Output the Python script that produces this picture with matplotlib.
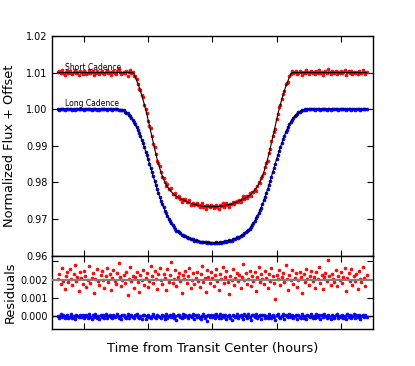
import matplotlib.pyplot as plt
import numpy as np

# time from transit center (hours), both cadences on the same grid
time = np.linspace(-2.4, 2.4, 241)

# transit models (flux + offset)
short_before = [
    1.0100, 1.0100, 1.0100, 1.0100, 1.0100, 1.0100, 1.0100, 1.0100, 1.0100, 1.0100,
    1.0100, 1.0100, 1.0100, 1.0100, 1.0100, 1.0100, 1.0100, 1.0100, 1.0100, 1.0100,
    1.0100, 1.0100, 1.0100, 1.0100, 1.0100, 1.0100, 1.0100, 1.0100, 1.0100, 1.0100,
    1.0100, 1.0100, 1.0100, 1.0100, 1.0100, 1.0100, 1.0100, 1.0100, 1.0100, 1.0100,
    1.0100, 1.0100, 1.0100, 1.0100, 1.0100, 1.0100, 1.0100, 1.0100, 1.0100, 1.0100,
    1.0100, 1.0100, 1.0100, 1.0100, 1.0100, 1.0100, 1.0100, 1.0100, 1.0100]
short_ingress = [
    1.0096, 1.0088, 1.0079, 1.0070, 1.0061, 1.0050, 1.0039, 1.0027, 1.0014, 1.0001,
    0.9987, 0.9972, 0.9956, 0.9940, 0.9924, 0.9908, 0.9893, 0.9878, 0.9864, 0.9851,
    0.9839, 0.9828, 0.9818, 0.9809, 0.9801, 0.9795, 0.9789, 0.9784, 0.9779, 0.9775,
    0.9771, 0.9768, 0.9765, 0.9763, 0.9760, 0.9758, 0.9756, 0.9754, 0.9753, 0.9751,
    0.9749, 0.9748, 0.9746, 0.9745, 0.9744, 0.9742, 0.9741, 0.9740, 0.9740, 0.9739,
    0.9738, 0.9737, 0.9736, 0.9736, 0.9735, 0.9735, 0.9734, 0.9734, 0.9734, 0.9734,
    0.9734, 0.9734]
short_egress = [
    0.9734, 0.9734, 0.9734, 0.9734, 0.9734, 0.9735, 0.9735, 0.9736, 0.9736, 0.9737,
    0.9738, 0.9739, 0.9740, 0.9740, 0.9741, 0.9742, 0.9744, 0.9745, 0.9746, 0.9748,
    0.9749, 0.9751, 0.9753, 0.9754, 0.9756, 0.9758, 0.9760, 0.9763, 0.9765, 0.9768,
    0.9771, 0.9775, 0.9779, 0.9784, 0.9789, 0.9795, 0.9801, 0.9809, 0.9818, 0.9828,
    0.9839, 0.9851, 0.9864, 0.9878, 0.9893, 0.9908, 0.9924, 0.9940, 0.9956, 0.9972,
    0.9987, 1.0001, 1.0014, 1.0027, 1.0039, 1.0050, 1.0061, 1.0070, 1.0079, 1.0088,
    1.0096]
short_after = [
    1.0100, 1.0100, 1.0100, 1.0100, 1.0100, 1.0100, 1.0100, 1.0100, 1.0100, 1.0100,
    1.0100, 1.0100, 1.0100, 1.0100, 1.0100, 1.0100, 1.0100, 1.0100, 1.0100, 1.0100,
    1.0100, 1.0100, 1.0100, 1.0100, 1.0100, 1.0100, 1.0100, 1.0100, 1.0100, 1.0100,
    1.0100, 1.0100, 1.0100, 1.0100, 1.0100, 1.0100, 1.0100, 1.0100, 1.0100, 1.0100,
    1.0100, 1.0100, 1.0100, 1.0100, 1.0100, 1.0100, 1.0100, 1.0100, 1.0100, 1.0100,
    1.0100, 1.0100, 1.0100, 1.0100, 1.0100, 1.0100, 1.0100, 1.0100, 1.0100]

long_before = [
    1.0000, 1.0000, 1.0000, 1.0000, 1.0000, 1.0000, 1.0000, 1.0000, 1.0000, 1.0000,
    1.0000, 1.0000, 1.0000, 1.0000, 1.0000, 1.0000, 1.0000, 1.0000, 1.0000, 1.0000,
    1.0000, 1.0000, 1.0000, 1.0000, 1.0000, 1.0000, 1.0000, 1.0000, 1.0000, 1.0000,
    1.0000, 1.0000, 1.0000, 1.0000, 1.0000, 1.0000, 1.0000, 1.0000, 1.0000, 1.0000,
    1.0000, 1.0000, 1.0000, 1.0000, 1.0000, 1.0000, 1.0000]
long_ingress = [
    1.0000, 0.9999, 0.9998,
    0.9997, 0.9996, 0.9993, 0.9991, 0.9988, 0.9984, 0.9980, 0.9976, 0.9971, 0.9965,
    0.9959, 0.9951, 0.9944, 0.9936, 0.9927, 0.9917, 0.9907, 0.9897, 0.9886, 0.9875,
    0.9864, 0.9852, 0.9840, 0.9828, 0.9816, 0.9805, 0.9793, 0.9782, 0.9771, 0.9761,
    0.9751, 0.9741, 0.9732, 0.9724, 0.9716, 0.9708, 0.9701, 0.9695, 0.9689, 0.9683,
    0.9679, 0.9674, 0.9670, 0.9667, 0.9664, 0.9661, 0.9658, 0.9656, 0.9654, 0.9652,
    0.9650, 0.9649, 0.9647, 0.9646, 0.9645, 0.9643, 0.9642, 0.9641, 0.9641, 0.9640,
    0.9639, 0.9638, 0.9638, 0.9637, 0.9637, 0.9636, 0.9636, 0.9636, 0.9636, 0.9635,
    0.9635]
long_egress = [
    0.9635, 0.9636, 0.9636, 0.9636, 0.9636, 0.9637, 0.9637, 0.9638, 0.9638, 0.9639,
    0.9640, 0.9641, 0.9641, 0.9642, 0.9643, 0.9645, 0.9646, 0.9647, 0.9649, 0.9650,
    0.9652, 0.9654, 0.9656, 0.9658, 0.9661, 0.9664, 0.9667, 0.9670, 0.9674, 0.9679,
    0.9683, 0.9689, 0.9695, 0.9701, 0.9708, 0.9716, 0.9724, 0.9732, 0.9741, 0.9751,
    0.9761, 0.9771, 0.9782, 0.9793, 0.9805, 0.9816, 0.9828, 0.9840, 0.9852, 0.9864,
    0.9875, 0.9886, 0.9897, 0.9907, 0.9917, 0.9927, 0.9936, 0.9944, 0.9951, 0.9959,
    0.9965, 0.9971, 0.9976, 0.9980, 0.9984, 0.9988, 0.9991, 0.9993, 0.9996, 0.9997,
    0.9998, 0.9999, 1.0000]
long_after = [
    1.0000, 1.0000, 1.0000, 1.0000, 1.0000, 1.0000, 1.0000, 1.0000, 1.0000, 1.0000,
    1.0000, 1.0000, 1.0000, 1.0000, 1.0000, 1.0000, 1.0000, 1.0000, 1.0000, 1.0000,
    1.0000, 1.0000, 1.0000, 1.0000, 1.0000, 1.0000, 1.0000, 1.0000, 1.0000, 1.0000,
    1.0000, 1.0000, 1.0000, 1.0000, 1.0000, 1.0000, 1.0000, 1.0000, 1.0000, 1.0000,
    1.0000, 1.0000, 1.0000, 1.0000, 1.0000, 1.0000, 1.0000]

# residuals in units of 1e-5 (short cadence shown offset by +0.002)
short_resid = [
    205, 231, 178, 262, 194, 148, 219, 243, 187, 256, 201, 169, 228, 281, 192, 214, 137, 239, 207, 176,
    248, 221, 159, 196, 272, 183, 210, 234, 126, 203, 258, 190, 171, 225, 246, 199, 153, 217, 264, 186,
    230, 141, 208, 252, 195, 174, 237, 289, 212, 163, 199, 226, 181, 244, 118, 206, 269, 191, 222, 157,
    215, 240, 185, 132, 227, 198, 253, 170, 209, 236, 160, 193, 276, 218, 184, 245, 202, 149, 229, 262,
    197, 175, 233, 211, 144, 257, 188, 223, 296, 180, 206, 251, 167, 214, 238, 192, 129, 226, 203, 247,
    182, 219, 265, 154, 200, 235, 177, 211, 242, 195, 161, 228, 273, 189, 207, 134, 253, 216, 183, 239,
    208, 166, 224, 258, 193, 145, 231, 204, 268, 179, 213, 247, 186, 122, 221, 196, 255, 171, 209, 236,
    190, 227, 152, 215, 283, 198, 238, 176, 205, 249, 163, 220, 193, 241, 139, 212, 266, 185, 228, 201,
    174, 245, 209, 157, 232, 194, 261, 218, 181, 96, 225, 203, 250, 168, 214, 237, 189, 279, 206, 143,
    223, 197, 254, 178, 210, 235, 162, 199, 244, 216, 127, 230, 187, 259, 204, 172, 222, 248, 191, 213,
    156, 240, 201, 269, 184, 226, 147, 212, 238, 195, 308, 218, 173, 231, 205, 186, 252, 164, 221, 199,
    243, 179, 215, 262, 136, 208, 234, 190, 256, 170, 217, 194, 229, 151, 247, 202, 185, 271, 211, 166,
    226]
long_resid = [
    3, -8, 12, -4, 6, -11, 1, 9, -6, -2, 14, -9, 4, -13, 7, 0, -5, 10, -3, 5,
    -10, 2, 8, -7, 15, -1, -12, 6, -4, 11, -8, 3, -15, 9, -2, 5, -6, 13, -9, 1,
    7, -3, -11, 10, -5, 4, 12, -8, 0, -14, 6, 8, -2, -6, 11, -10, 3, 9, -4, -7,
    5, 13, -1, -9, 2, -12, 8, 6, -16, 4, 10, -3, -7, 1, 14, -5, -11, 7, 3, -2,
    -8, 9, 4, -13, 11, -6, 0, 7, -4, 12, -9, 2, -21, 6, 10, -1, -7, 15, -3, 5,
    1, -10, 8, 3, -5, 13, -12, 6, -2, 9, -8, -14, 4, 11, -6, 2, -25, 7, -4, 10,
    -3, 6, -9, 12, 0, -7, 14, -11, 5, -1, 8, -15, 3, 10, -6, -18, 9, 1, -4, 13,
    -10, 4, 7, -2, -13, 11, 2, -8, 15, -5, -17, 6, 9, -3, 12, -9, 0, 8, -12, 5,
    10, -6, 3, -11, 14, 1, -7, 9, -4, -19, 6, 12, -2, -9, 4, 11, -14, 7, 0, -5,
    13, -3, 8, -10, 2, 6, -16, 10, -1, -6, 15, -8, 4, -12, 9, 3, -4, 11, -7, 1,
    -9, 12, -2, 5, -13, 8, -5, 14, 0, -10, 7, -3, -15, 10, 2, -7, 6, 13, -11, 4,
    -1, 9, -6, 3, -12, 11, -4, 7, -8, 2, 14, -10, 5, -2, 8, -13, 1, 10, -5, 6, -3]
resid_offset = 0.002

short_model = np.array(short_before + short_ingress + short_egress + short_after)
long_model = np.array(long_before + long_ingress + long_egress + long_after)
short_res = np.array(short_resid) * 1e-5
long_res = np.array(long_resid) * 1e-5
short_flux = short_model + short_res - resid_offset
long_flux = long_model + long_res

plt.rcParams['font.family'] = 'DejaVu Sans'
plt.rcParams['xtick.direction'] = 'in'
plt.rcParams['ytick.direction'] = 'in'
plt.rcParams['xtick.top'] = True
plt.rcParams['ytick.right'] = True
plt.rcParams['xtick.major.size'] = 4
plt.rcParams['ytick.major.size'] = 4
plt.rcParams['axes.linewidth'] = 1.0

fig = plt.figure(figsize=(4.15, 3.66), dpi=100)
ax1 = fig.add_axes([0.1246, 0.3014, 0.7742, 0.6002])
ax2 = fig.add_axes([0.1246, 0.1003, 0.7742, 0.2011])

ax1.plot(time, short_flux, '.', color='r', ms=4, mew=0.6)
ax1.plot(time, long_flux, '.', color='b', ms=4, mew=0.6)
ax1.plot(time, short_model, 'k-', lw=0.8)
ax1.plot(time, long_model, 'k-', lw=0.8)
ax1.text(-2.3, 1.0106, 'Short Cadence', fontsize=5.5)
ax1.text(-2.3, 1.0008, 'Long Cadence', fontsize=5.5)
ax1.set_xlim(-2.5, 2.5)
ax1.set_ylim(0.96, 1.02)
ax1.set_xticks([-2, -1, 0, 1, 2])
ax1.set_xticklabels([])
ax1.set_yticks([0.96, 0.97, 0.98, 0.99, 1.00, 1.01, 1.02])
ax1.set_yticklabels(['0.96', '0.97', '0.98', '0.99', '1.00', '1.01', '1.02'])
ax1.tick_params(labelsize=7, pad=3)
ax1.set_ylabel('Normalized Flux + Offset', fontsize=9.3)

ax2.axhline(resid_offset, color='0.5', lw=1.5, zorder=3)
ax2.axhline(0.0, color='k', lw=1.0, zorder=1)
ax2.plot(time, short_res, '.', color='r', ms=4, mew=0.6, zorder=2)
ax2.plot(time, long_res, '.', color='b', ms=4, mew=0.6, zorder=2)
ax2.set_xlim(-2.5, 2.5)
ax2.set_ylim(-0.0007, 0.0033)
ax2.set_xticks([-2, -1, 0, 1, 2])
ax2.set_xticklabels([])
ax2.set_yticks([0.0, 0.001, 0.002, 0.003])
ax2.set_yticklabels(['0.000', '0.001', '0.002', ''])
ax2.tick_params(labelsize=7, pad=3)
ax2.set_ylabel('Residuals', fontsize=9.3)
ax2.set_xlabel('Time from Transit Center (hours)', fontsize=9.3, labelpad=6)

ax1.yaxis.set_label_coords(-0.11, 0.5)
ax2.yaxis.set_label_coords(-0.11, 0.5)

fig.savefig('out.png', dpi=100)
